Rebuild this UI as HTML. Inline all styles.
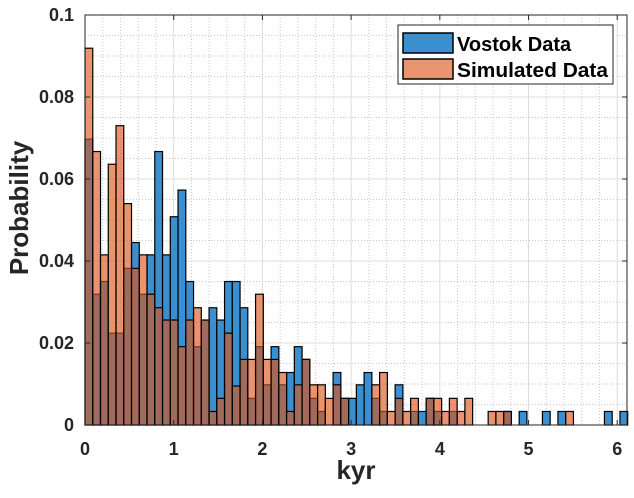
<!DOCTYPE html>
<html><head><meta charset="utf-8"><style>
html,body{margin:0;padding:0;background:#fff;}
svg{display:block;font-family:"Liberation Sans",Arial,sans-serif;}
</style></head><body>
<svg id="chart" width="634" height="498">
<g id="grid"></g>
<g id="bars-v"></g>
<g id="bars-s"></g>
<g id="axes"></g>
<text x="28" y="208" transform="rotate(-90 28 208)" text-anchor="middle" font-size="26" font-weight="bold" fill="#262626">Probability</text>
<text x="356" y="479" text-anchor="middle" font-size="26" font-weight="bold" fill="#262626">kyr</text>
<g>
<rect x="398" y="25" width="215" height="59" fill="#fff" stroke="#262626" stroke-width="1"/>
<g>
<rect x="403" y="33" width="50" height="20" fill="#3a8fd0" stroke="#000" stroke-width="1.5"/>
<text x="457" y="51" font-size="20" font-weight="bold" fill="#000">Vostok Data</text>
</g>
<g>
<rect x="403" y="59" width="50" height="20" fill="#e9956f" stroke="#000" stroke-width="1.5"/>
<text x="457" y="77" font-size="20" font-weight="bold" fill="#000" textLength="151" lengthAdjust="spacingAndGlyphs">Simulated Data</text>
</g>
</g>
</svg>
<script>
const binWidth = 0.0874;
const vostok = [0.0697,0.0319,0.035,0.0224,0.0224,0.0382,0.0445,0.0319,0.0415,0.0667,0.0415,0.0508,0.0573,0.035,0.0191,0.0256,0.0286,0.0256,0.035,0.035,0.0286,0.0065,0.0191,0.0098,0.0191,0.0098,0.0128,0.0191,0.016,0.0065,0.0033,0,0.0128,0.0065,0.0065,0.0098,0.0128,0.0065,0.0033,0,0.0098,0,0.0033,0.0033,0.0065,0.0033,0,0.0033,0,0,0,0,0,0,0.0033,0,0.0033,0,0,0.0033,0,0.0033,0,0,0,0,0,0.0033,0,0.0033];
const simulated = [0.0919,0.0667,0.0415,0.0636,0.073,0.054,0.0382,0.0415,0.0319,0.0286,0.0256,0.0256,0.0191,0.0256,0.0286,0.0256,0.0033,0.0065,0.0224,0.0095,0.016,0.016,0.0319,0.016,0.016,0.0128,0.0033,0.0098,0.016,0.0098,0.0098,0.0065,0.0098,0.0065,0,0,0,0.0098,0.0128,0.0033,0.0065,0.0033,0.0065,0,0.0065,0.0065,0.0033,0.0065,0.0033,0.0065,0,0,0.0033,0.0033,0.0033,0,0,0,0,0,0,0,0.0033,0,0,0,0,0,0,0];
const xTicks = [0,1,2,3,4,5,6];
const yTicks = [0,0.02,0.04,0.06,0.08,0.1];
const yTickLabels = ["0","0.02","0.04","0.06","0.08","0.1"];
const X0=85, X1=627, Y0=425, Y1=15, XMAX=6.11, YMAX=0.1;
const xs = v => X0 + v/XMAX*(X1-X0);
const ys = v => Y0 - v/YMAX*(Y0-Y1);
const NS="http://www.w3.org/2000/svg";
function mk(tag, attrs, parent){const e=document.createElementNS(NS,tag);for(const k in attrs)e.setAttribute(k,attrs[k]);parent.appendChild(e);return e;}
const grid=document.getElementById('grid');
for(let v=0.2; v<XMAX; v+=0.2){ if(Math.abs(v-Math.round(v))<1e-6) continue;
 const l=mk('line',{x1:xs(v),x2:xs(v),y1:Y1,y2:Y0,stroke:'#c8c8c8','stroke-dasharray':'1,2','stroke-width':1},grid);
 
 }
for(let v=0.005; v<YMAX; v+=0.005){ if(Math.abs(v/0.02-Math.round(v/0.02))<1e-6) continue;
 const l=mk('line',{x1:X0,x2:X1,y1:ys(v),y2:ys(v),stroke:'#c8c8c8','stroke-dasharray':'1,2','stroke-width':1},grid);
 
 }
xTicks.forEach(v=>{ const l=mk('line',{x1:xs(v),x2:xs(v),y1:Y1,y2:Y0,stroke:'#dcdcdc','stroke-width':1},grid);
 
 });
yTicks.forEach(v=>{ const l=mk('line',{x1:X0,x2:X1,y1:ys(v),y2:ys(v),stroke:'#dcdcdc','stroke-width':1},grid);
 
 });
function drawBars(arr, g, fill, op, name){
 arr.forEach((v,i)=>{ if(v<=0) return;
  const xa=xs(i*binWidth), xb=xs((i+1)*binWidth);
  const r=mk('rect',{x:xa,y:ys(v),width:xb-xa,height:ys(0)-ys(v),fill:fill,'fill-opacity':op,stroke:'#000','stroke-width':1.2},g);
  
  });
}
drawBars(vostok, document.getElementById('bars-v'), '#3a8fd0', 1, 'vostok-bar');
drawBars(simulated, document.getElementById('bars-s'), '#dc561a', 0.63, 'simulated-bar');
const ax=document.getElementById('axes');
const box=mk('rect',{x:X0,y:Y1,width:X1-X0,height:Y0-Y1,fill:'none',stroke:'#262626','stroke-width':1},ax);


xTicks.forEach(v=>{
 mk('line',{x1:xs(v),x2:xs(v),y1:Y0,y2:Y0-5,stroke:'#262626'},ax);
 mk('line',{x1:xs(v),x2:xs(v),y1:Y1,y2:Y1+5,stroke:'#262626'},ax);
 const t=mk('text',{x:xs(v),y:455,'text-anchor':'middle','font-size':18,'font-weight':'bold',fill:'#262626'},ax);
 t.textContent=String(v);
 
 });
yTicks.forEach((v,i)=>{
 mk('line',{x1:X0,x2:X0+5,y1:ys(v),y2:ys(v),stroke:'#262626'},ax);
 mk('line',{x1:X1,x2:X1-5,y1:ys(v),y2:ys(v),stroke:'#262626'},ax);
 const t=mk('text',{x:74,y:ys(v)+6,'text-anchor':'end','font-size':18,'font-weight':'bold',fill:'#262626'},ax);
 t.textContent=yTickLabels[i];
 
 });
</script>
</body></html>
